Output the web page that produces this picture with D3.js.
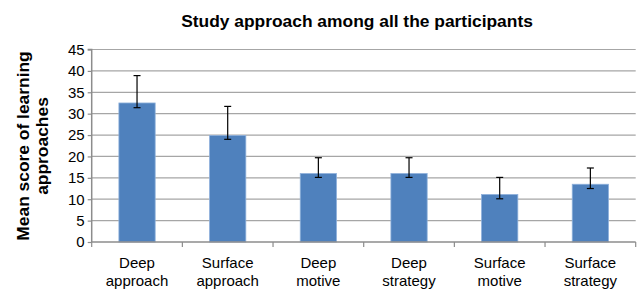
<!DOCTYPE html>
<html><head><meta charset="utf-8">
<script src="https://cdn.jsdelivr.net/npm/d3@7"></script>
<style>body{margin:0;background:#fff}svg{display:block;font-family:"Liberation Sans",Arial,sans-serif}</style>
</head><body><svg id="c" width="637" height="289"></svg>
<script>
const categories = [["Deep","approach"],["Surface","approach"],["Deep","motive"],["Deep","strategy"],["Surface","motive"],["Surface","strategy"]];
const values = [32.5, 24.9, 16.0, 16.0, 11.1, 13.5];
const errUpper = [38.9, 31.7, 19.7, 19.7, 15.1, 17.3];
const errLower = [31.4, 24.0, 15.1, 15.1, 10.1, 12.5];
const yTicks = [0,5,10,15,20,25,30,35,40,45];

const svg = d3.select("#c");
const L = 91.7, R = 635.7, T = 49.5, B = 242;
const x = d3.scaleBand().domain(d3.range(categories.length)).range([L, R]).paddingInner(0.6).paddingOuter(0.3);
const xb = d3.scaleBand().domain(d3.range(categories.length)).range([L, R]);
const y = d3.scaleLinear().domain([0,45]).range([B, T]);

// gridlines
svg.append("g").selectAll("line").data(yTicks.filter(d=>d>0)).join("line")
  .attr("x1", L).attr("x2", R).attr("y1", d=>y(d)).attr("y2", d=>y(d))
  .attr("stroke", "#a6a6a6").attr("stroke-width", 1.2);

// bars
svg.append("g").selectAll("rect").data(values).join("rect")
  .attr("x", (d,i)=>x(i)).attr("width", x.bandwidth())
  .attr("y", d=>y(d)).attr("height", d=>B-y(d))
  .attr("fill", "#4f81bd").attr("stroke", "#8eb0db").attr("stroke-width", 0.8);

// error bars
const eg = svg.append("g").attr("stroke", "#000").attr("stroke-width", 1.2);
values.forEach((v,i)=>{
  const cx = x(i) + x.bandwidth()/2;
  eg.append("line").attr("x1",cx).attr("x2",cx).attr("y1",y(errUpper[i])).attr("y2",y(errLower[i]));
  eg.append("line").attr("x1",cx-3.5).attr("x2",cx+3.5).attr("y1",y(errUpper[i])).attr("y2",y(errUpper[i]));
  eg.append("line").attr("x1",cx-3.5).attr("x2",cx+3.5).attr("y1",y(errLower[i])).attr("y2",y(errLower[i]));
});

// y axis
const ya = svg.append("g").attr("transform", `translate(${L},0)`)
  .call(d3.axisLeft(y).tickValues(yTicks).tickSize(4).tickPadding(3));
ya.attr("font-family", null);
ya.select(".domain").attr("stroke", "#8c8c8c").attr("stroke-width", 1.5).attr("d", `M-4,${T}H0V${B}`);
ya.selectAll(".tick line").attr("stroke", "#8c8c8c").attr("stroke-width", 1.2);
ya.selectAll(".tick text").attr("font-size", 15).attr("fill", "#000");

// x axis
const xg = svg.append("g");
xg.append("line").attr("x1", L).attr("x2", R).attr("y1", B).attr("y2", B).attr("stroke", "#8c8c8c").attr("stroke-width", 1.5);
xg.selectAll("line.t").data(d3.range(categories.length+1)).join("line").attr("class","t")
  .attr("x1", d=>L + d*xb.bandwidth()).attr("x2", d=>L + d*xb.bandwidth())
  .attr("y1", B).attr("y2", B+5).attr("stroke", "#8c8c8c").attr("stroke-width", 1.2);
xg.selectAll("text").data(categories).join("text")
  .attr("x", (d,i)=>xb(i)+xb.bandwidth()/2).attr("y", 268)
  .attr("text-anchor","middle").attr("font-size", 15).attr("fill","#000")
  .selectAll("tspan").data(d=>d).join("tspan")
  .attr("x", function(){return this.parentNode.getAttribute("x");})
  .attr("dy", (d,i)=> i===0 ? 0 : 17.5).text(d=>d);

// title
svg.append("text").attr("x", 357).attr("y", 27).attr("text-anchor","middle")
  .attr("font-size", 17.4).attr("font-weight","bold").text("Study approach among all the participants");

// y label
const yl = svg.append("text").attr("transform", "translate(33,146) rotate(-90)")
  .attr("text-anchor","middle").attr("font-size", 17.4).attr("font-weight","bold");
yl.append("tspan").attr("x",0).attr("dy",-4).text("Mean score of learning");
yl.append("tspan").attr("x",0).attr("dy",19).text("approaches");
</script></body></html>
